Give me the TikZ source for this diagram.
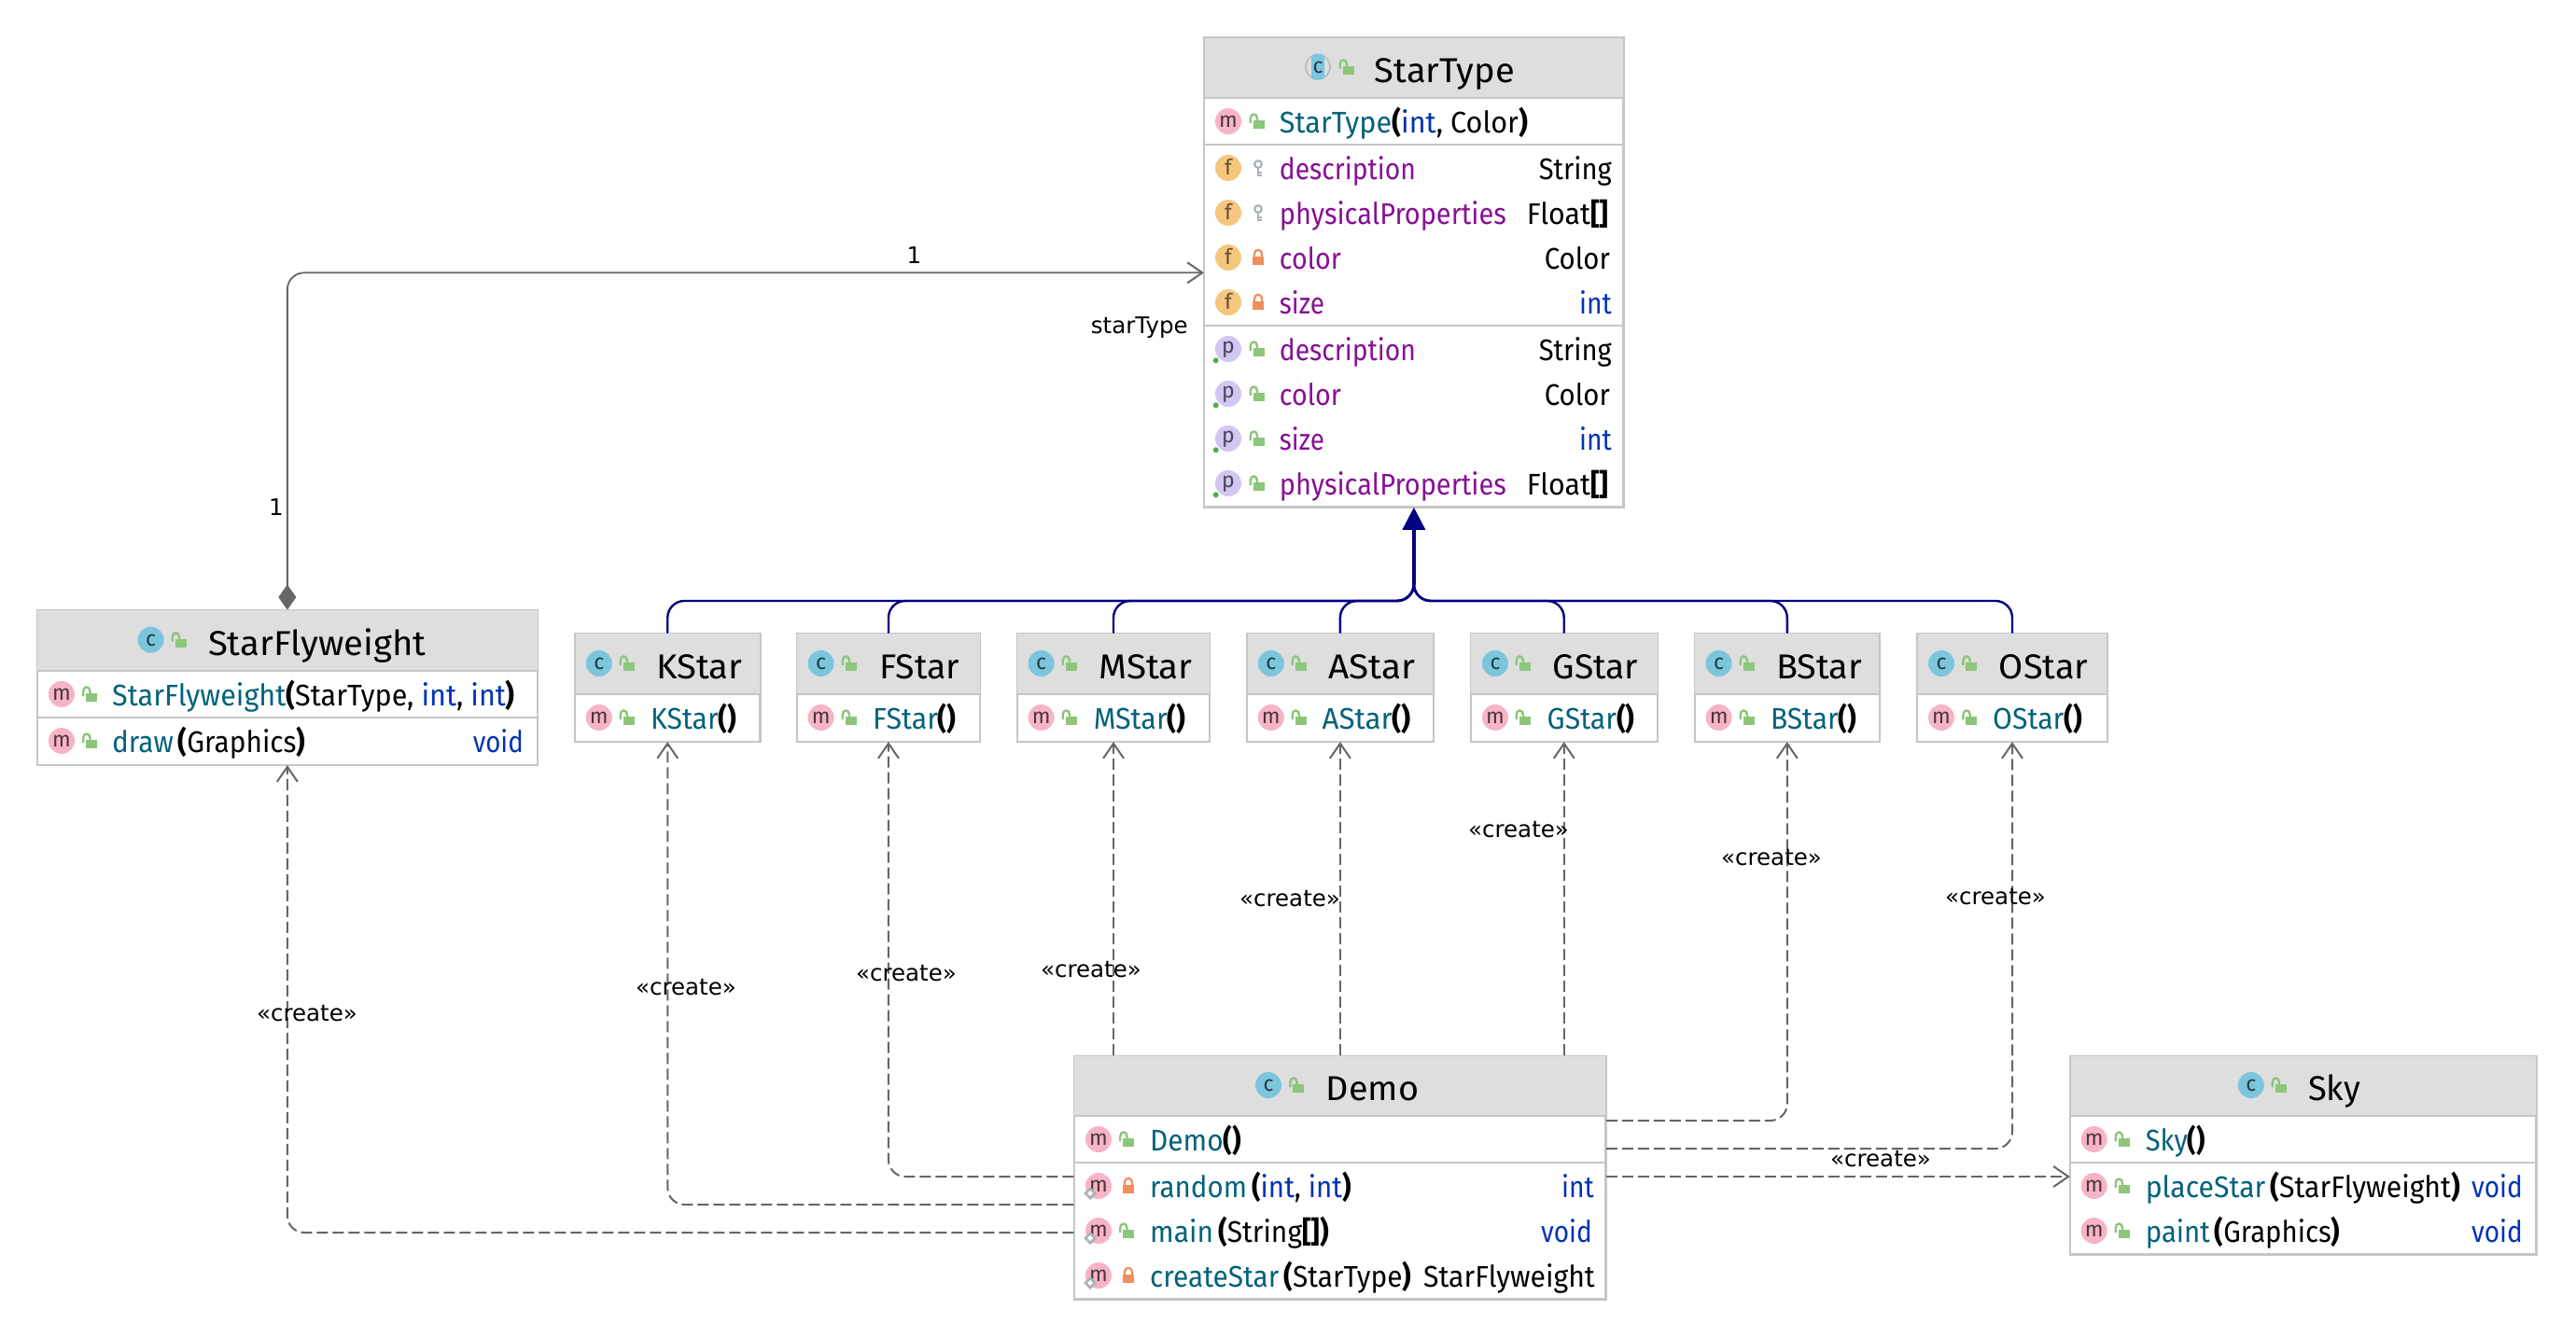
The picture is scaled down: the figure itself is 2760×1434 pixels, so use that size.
\documentclass[tikz,border=0pt]{standalone}
\usepackage{fontspec}
\usepackage{graphicx}
\usetikzlibrary{arrows.meta}
\setmainfont{Fira Sans}
\newfontfamily\lblfont{DejaVu Sans}
\definecolor{methodc}{HTML}{00627A}
\definecolor{fieldc}{HTML}{871094}
\definecolor{kwc}{HTML}{0033B3}
\definecolor{hdrc}{HTML}{DEDEDE}
\definecolor{bordc}{HTML}{C6C6C6}
\definecolor{navyc}{HTML}{000080}
\definecolor{linec}{HTML}{666666}
\definecolor{cblue}{HTML}{7CC5DE}
\definecolor{mpink}{HTML}{F7B4C4}
\definecolor{forange}{HTML}{F5C77E}
\definecolor{ppurple}{HTML}{D2C6F2}
\definecolor{lockg}{HTML}{8CC67A}
\definecolor{locko}{HTML}{F28D5C}
\definecolor{keyg}{HTML}{A9B2B8}
\tikzset{
  cbox/.style={draw=bordc,line width=1.5pt,fill=white,inner sep=0pt,rectangle},
  septn/.style={draw=bordc,line width=2pt},
  rowtxt/.style={inner sep=0pt,font=\fontsize{32}{36}\selectfont},
  tittxt/.style={inner sep=0pt,font=\fontsize{37}{42}\selectfont},
  lbl/.style={inner sep=0pt,font=\lblfont\fontsize{24.5}{28}\selectfont,text=black},
  icotxt/.style={inner sep=0pt,anchor=base,font=\fontsize{23}{26}\selectfont},
  dep/.style={draw=linec,line width=2pt,dash pattern=on 12pt off 5pt,rounded corners=18pt,
    -{Straight Barb[length=16pt,width=22pt,line width=2pt]}},
  comp/.style={draw=linec,line width=1.8pt,rounded corners=18pt,
    {Diamond[length=27pt,width=19pt,fill=linec]}-{Straight Barb[length=16pt,width=22pt,line width=2pt]}},
  inh/.style={draw=navyc,line width=2.4pt,rounded corners=18pt,line join=round},
  inhtip/.style={draw=navyc,line width=3.4pt,-{Triangle[length=24pt,width=24pt,fill=navyc]}},
}
\newcommand\Mt[1]{\textcolor{methodc}{#1}}
\newcommand\Ft[1]{\textcolor{fieldc}{#1}}
\newcommand\Kw[1]{\textcolor{kwc}{#1}}
\newcommand\Bd[1]{{\bfseries #1}}
\newcount\nn
\newcommand\classbox[6]{% name x1 y1 x2 y2 hdrbottom
  \node[cbox,minimum width={#4pt-#2pt},minimum height={#5pt-#3pt}] (#1) at ({(#2+#4)/2},{(#3+#5)/2}) {};
  \fill[hdrc] (#1.north west) rectangle (#1.east |- 0,#6);
  \draw[septn] (#1.west |- 0,#6) -- (#1.east |- 0,#6);
  \draw[draw=bordc,line width=1.5pt] (#1.north west) rectangle (#1.south east);
}
\newcommand\sepln[2]{\draw[septn] (#1.west |- 0,#2) -- (#1.east |- 0,#2);}
\newcommand\icn[6]{% x y fill lettercolor letter baseoffset
  \global\advance\nn by 1
  \fill[#3] (#1,#2) circle[radius=14];
  \node[icotxt,text=#4] (i\the\nn) at (#1,{#2+#6}) {#5};
}
\newcommand\cic[2]{\icn{#1}{#2}{cblue}{black!70!cblue}{c}{6.5}}
\newcommand\cabs[2]{%
  \fill[keyg!80!white] (#1,#2) circle[radius=14];
  \fill[white!60!keyg] (#1,#2) circle[radius=12];
  \begin{scope}
    \clip (#1,#2) circle[radius=14];
    \fill[cblue] ({#1-7},{#2-15}) rectangle ({#1+7},{#2+15});
  \end{scope}
  \global\advance\nn by 1
  \node[icotxt,text=black!70!cblue] (i\the\nn) at (#1,{#2+6.5}) {c};
}
\newcommand\mic[2]{\icn{#1}{#2}{mpink}{black!70!mpink}{m}{6.5}}
\newcommand\fic[2]{\icn{#1}{#2}{forange}{black!60!forange}{f}{7.5}}
\newcommand\pprop[2]{\icn{#1}{#2}{ppurple}{black!65!ppurple}{p}{4.5}
  \fill[green!55!black!70!white] ({#1-13.3},{#2+12.3}) circle[radius=3];}
\newcommand\stat[2]{%
  \fill[keyg] ({#1-9},{#2+1}) -- ({#1-2},{#2+8}) -- ({#1-9},{#2+15}) -- ({#1-16},{#2+8}) -- cycle;
  \fill[white] ({#1-9},{#2+5}) -- ({#1-6},{#2+8}) -- ({#1-9},{#2+11}) -- ({#1-12},{#2+8}) -- cycle;}
\newcommand\lopen[2]{%
  \begin{scope}[shift={(#1,#2)}]
    \fill[lockg] (-4.3,-1) rectangle (7.7,8);
    \draw[lockg,line width=2.4pt] (-7.3,2) -- (-7.3,-3) .. controls (-7.3,-9) and (0,-9) .. (0,-3) -- (0,0);
  \end{scope}}
\newcommand\lclosed[2]{%
  \begin{scope}[shift={(#1,#2)}]
    \fill[locko] (-6.3,-1) rectangle (6.3,8);
    \draw[locko,line width=2.2pt] (-4,0) -- (-4,-4) .. controls (-4,-9.5) and (4,-9.5) .. (4,-4) -- (4,0);
  \end{scope}}
\newcommand\keyic[2]{%
  \begin{scope}[shift={(#1,#2)}]
    \draw[keyg,line width=2.2pt] (0,-4) circle[radius=3.8];
    \draw[keyg,line width=2.6pt] (0,-1) -- (0,9) (0,5) -- (3.5,5) (0,8) -- (3.5,8);
  \end{scope}}
\newcommand\txl[4]{\global\advance\nn by 1
  \node[rowtxt,anchor=base west] (t\the\nn) at (#1,{#2+12.3}) {\resizebox{#3pt}{\height}{#4}};}
\newcommand\txr[4]{\global\advance\nn by 1
  \node[rowtxt,anchor=base east] (t\the\nn) at (#1,{#2+12.3}) {\resizebox{#3pt}{\height}{#4}};}
\newcommand\titl[4]{\global\advance\nn by 1
  \node[tittxt,anchor=base west] (t\the\nn) at (#1,{#2+16.5}) {\resizebox{#3pt}{\height}{#4}};}
\newcommand\starbox[9]{% name x1 x2 Cx lockx titlex titlew rowx roww
  \classbox{#1}{#2}{679.3}{#3}{794.3}{744}
  \cic{#4}{711}\lopen{#5}{711}\titl{#6}{711}{#7}{#1}
  \mic{#4}{769}\lopen{#5}{769}
  \txl{#8}{769}{#9}{\Mt{#1}\Bd{()}}
}
\begin{document}
\begin{tikzpicture}[x=1pt,y=-1pt]
\useasboundingbox (0,0) rectangle (2760,1434);
\fill[white] (0,0) rectangle (2760,1434);

% StarType
\classbox{StarType}{1290.7}{41}{1739}{543}{105}
\sepln{StarType}{155}\sepln{StarType}{349}
\cabs{1412}{71.7}\lopen{1443}{71.7}\titl{1472.7}{71.7}{150}{StarType}
\mic{1316}{130}\lopen{1347}{130}
\txl{1370.7}{130}{266}{\Mt{StarType}\Bd{(}\Kw{int}, Color\Bd{)}}
\fic{1316}{180}\keyic{1348}{180}\txl{1370.7}{180}{146}{\Ft{description}}\txr{1727}{180}{78}{String}
\fic{1316}{228}\keyic{1348}{228}\txl{1370.7}{228}{243}{\Ft{physicalProperties}}\txr{1724}{228}{88}{Float\Bd{[]}}
\fic{1316}{276}\lclosed{1348}{276}\txl{1370.7}{276}{66}{\Ft{color}}\txr{1725}{276}{70}{Color}
\fic{1316}{324}\lclosed{1348}{324}\txl{1370.7}{324}{48}{\Ft{size}}\txr{1727}{324}{34.7}{\Kw{int}}
\pprop{1316}{374}\lopen{1347}{374}\txl{1370.7}{374}{146}{\Ft{description}}\txr{1727}{374}{78}{String}
\pprop{1316}{422}\lopen{1347}{422}\txl{1370.7}{422}{66}{\Ft{color}}\txr{1725}{422}{70}{Color}
\pprop{1316}{470}\lopen{1347}{470}\txl{1370.7}{470}{48}{\Ft{size}}\txr{1727}{470}{34.7}{\Kw{int}}
\pprop{1316}{518}\lopen{1347}{518}\txl{1370.7}{518}{243}{\Ft{physicalProperties}}\txr{1724}{518}{88}{Float\Bd{[]}}

% StarFlyweight
\classbox{StarFlyweight}{40}{654.3}{575.7}{819.3}{719}
\sepln{StarFlyweight}{768.7}
\cic{161.6}{685.7}\lopen{192}{685.7}\titl{222.8}{685.7}{233.4}{StarFlyweight}
\mic{66}{744}\lopen{96.5}{744}
\txl{120}{744}{431.7}{\Mt{StarFlyweight}\Bd{(}StarType, \Kw{int}, \Kw{int}\Bd{)}}
\mic{66}{794}\lopen{96.5}{794}
\txl{120}{794}{207}{\Mt{draw}\,\Bd{(}Graphics\Bd{)}}\txr{561}{794}{54}{\Kw{void}}

% Star classes
\starbox{KStar}{616.5}{814}{641.8}{672}{703}{92}{697}{92}
\starbox{FStar}{854.4}{1049.5}{879.6}{910}{942}{86}{935}{89.5}
\starbox{MStar}{1090.4}{1295.6}{1115.6}{1146}{1177.6}{100}{1171.6}{98.7}
\starbox{AStar}{1336.5}{1535.3}{1361.8}{1392}{1423}{93}{1416.4}{95.5}
\starbox{GStar}{1576}{1775.5}{1602}{1632}{1663.4}{91.6}{1657.5}{94}
\starbox{BStar}{1816.3}{2013.3}{1841.6}{1872}{1903}{91.5}{1897}{92}
\starbox{OStar}{2054.7}{2257.3}{2080}{2110.7}{2141.7}{95.5}{2135}{95.7}

% Demo
\classbox{Demo}{1151.2}{1132}{1720}{1392}{1196}
\sepln{Demo}{1246}
\cic{1359}{1163}\lopen{1389.6}{1163}\titl{1420.6}{1163}{99.4}{Demo}
\mic{1177}{1221}\lopen{1207.5}{1221}\txl{1232}{1221}{98}{\Mt{Demo}\Bd{()}}
\mic{1177}{1271}\stat{1177}{1271}\lclosed{1209}{1271}
\txl{1232}{1271}{215.5}{\Mt{random}\,\Bd{(}\Kw{int}, \Kw{int}\Bd{)}}\txr{1708}{1271}{34.7}{\Kw{int}}
\mic{1177}{1319}\stat{1177}{1319}\lopen{1207.5}{1319}
\txl{1232}{1319}{192}{\Mt{main}\,\Bd{(}String\Bd{[]}\Bd{)}}\txr{1706}{1319}{54.7}{\Kw{void}}
\mic{1177}{1367}\stat{1177}{1367}\lclosed{1209}{1367}
\txl{1232}{1367}{280}{\Mt{createStar}\,\Bd{(}StarType\Bd{)}}\txr{1709}{1367}{183.7}{StarFlyweight}

% Sky
\classbox{Sky}{2218.6}{1132}{2717}{1344}{1196}
\sepln{Sky}{1246}
\cic{2411.8}{1163}\lopen{2442}{1163}\titl{2473}{1163}{56}{Sky}
\mic{2243.6}{1221}\lopen{2274}{1221}\txl{2298.6}{1221}{64}{\Mt{Sky}\Bd{()}}
\mic{2243.6}{1271}\lopen{2274}{1271}
\txl{2298.6}{1271}{337}{\Mt{placeStar}\,\Bd{(}StarFlyweight\Bd{)}}\txr{2703}{1271}{54.7}{\Kw{void}}
\mic{2243.6}{1319}\lopen{2274}{1319}
\txl{2298.6}{1319}{208.6}{\Mt{paint}\,\Bd{(}Graphics\Bd{)}}\txr{2703}{1319}{54.7}{\Kw{void}}

% named connector ends
\coordinate (busy) at (0,644);
\coordinate (stem) at (StarType.south |- 0,627);
\coordinate (stIn) at (StarType.west |- 0,292.3);
\coordinate (dF) at (Demo.west |- 0,1261);
\coordinate (dK) at (Demo.west |- 0,1291);
\coordinate (dS) at (Demo.west |- 0,1321);
\coordinate (dB) at (Demo.east |- 0,1201);
\coordinate (dO) at (Demo.east |- 0,1231);
\coordinate (dY) at (Demo.east |- 0,1261);
\coordinate (skyIn) at (Sky.west |- 0,1261);

% inheritance
\foreach \st in {KStar,FStar,MStar,AStar,GStar,BStar,OStar}{
  \draw[inh] (\st.north) -- (\st.north |- busy) -- (StarType.south |- busy) -- (stem);
}
\draw[inhtip] (stem) -- (StarType.south);

% composition
\draw[comp] (StarFlyweight.north) |- (stIn);

% dependencies
\draw[dep] (dS) -| (StarFlyweight.south);
\draw[dep] (dK) -| (KStar.south);
\draw[dep] (dF) -| (FStar.south);
\draw[dep] (Demo.north -| MStar.south) -- (MStar.south);
\draw[dep] (Demo.north -| AStar.south) -- (AStar.south);
\draw[dep] (Demo.north -| GStar.south) -- (GStar.south);
\draw[dep] (dB) -| (BStar.south);
\draw[dep] (dO) -| (OStar.south);
\draw[dep] (dY) -- (skyIn);

% labels
\node[lbl] (l1) at (979.4,274) {1};
\node[lbl] (l2) at (1220.8,351) {starType};
\node[lbl] (l3) at (296,544) {1};
\node[lbl] (c1) at (329,1086.5) {«create»};
\node[lbl] (c2) at (735,1058.3) {«create»};
\node[lbl] (c3) at (971,1043) {«create»};
\node[lbl] (c4) at (1169,1039.5) {«create»};
\node[lbl] (c5) at (1382,963) {«create»};
\node[lbl] (c6) at (1627,889) {«create»};
\node[lbl] (c7) at (1898,919) {«create»};
\node[lbl] (c8) at (2138,961) {«create»};
\node[lbl] (c9) at (2015,1241.7) {«create»};
\end{tikzpicture}
\end{document}
